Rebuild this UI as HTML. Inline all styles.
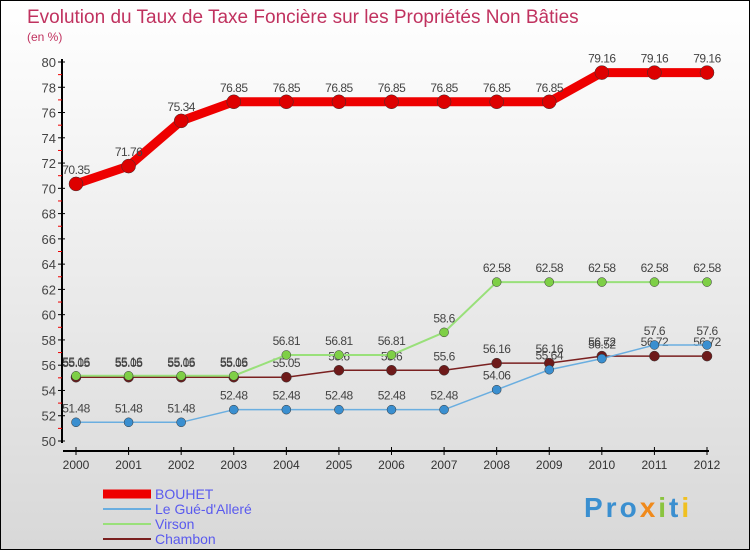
<!DOCTYPE html>
<html><head><meta charset="utf-8"><style>
body{margin:0;}
#wrap{width:748px;height:548px;border:1px solid #000;background:linear-gradient(#fff,#d8d8d8);position:relative;overflow:hidden;font-family:"Liberation Sans",sans-serif;}
</style></head><body>
<div id="wrap">
<svg id="chart" width="748" height="548" xmlns="http://www.w3.org/2000/svg">
<text x="26" y="22" font-size="19" fill="#c0325f">Evolution du Taux de Taxe Foncière sur les Propriétés Non Bâties</text>
<text x="26" y="40" font-size="12" fill="#c0325f">(en %)</text>
<g id="axes"></g><g id="series"></g><g id="legend"></g>
<text x="583" y="516" font-size="28" font-weight="bold" letter-spacing="3" fill="#3a8fd0">Pro<tspan fill="#f08a1c">x</tspan><tspan fill="#8ac43f">i</tspan>t<tspan fill="#f0c020">i</tspan></text>
</svg>
</div>
<script>
const years=[2000,2001,2002,2003,2004,2005,2006,2007,2008,2009,2010,2011,2012];
const bouhet=[70.35,71.76,75.34,76.85,76.85,76.85,76.85,76.85,76.85,76.85,79.16,79.16,79.16];
const gue=[51.48,51.48,51.48,52.48,52.48,52.48,52.48,52.48,54.06,55.64,56.52,57.6,57.6];
const virson=[55.16,55.16,55.16,55.16,56.81,56.81,56.81,58.6,62.58,62.58,62.58,62.58,62.58];
const chambon=[55.05,55.05,55.05,55.05,55.05,55.6,55.6,55.6,56.16,56.16,56.72,56.72,56.72];
const yTicks=[50,52,54,56,58,60,62,64,66,68,70,72,74,76,78,80];
const NS="http://www.w3.org/2000/svg";
function X(i){return 75+i*(706-75)/(years.length-1);}
function Y(v){return 440-(v-50)*(440-61)/30;}
function mk(t,a,p){const e=document.createElementNS(NS,t);for(const k in a)e.setAttribute(k,a[k]);p.appendChild(e);return e;}
const ax=document.getElementById('axes');
const yl=mk('line',{x1:61,y1:58,x2:61,y2:442,stroke:'#000','stroke-width':2},ax);


const xl=mk('line',{x1:62,y1:450,x2:708,y2:450,stroke:'#000','stroke-width':2},ax);


yTicks.forEach(v=>{
  mk('line',{x1:57,y1:Y(v),x2:64,y2:Y(v),stroke:'#000'},ax);
  if(v<80)mk('line',{x1:57,y1:Y(v+1),x2:61,y2:Y(v+1),stroke:'#e00'},ax);
  const t=mk('text',{x:55,y:Y(v)+5,'text-anchor':'end','font-size':13,fill:'#444'},ax);
  t.textContent=v;
  
  
});
years.forEach((yr,i)=>{
  mk('line',{x1:X(i),y1:446,x2:X(i),y2:454,stroke:'#000'},ax);
  const t=mk('text',{x:X(i),y:468,'text-anchor':'middle','font-size':12,fill:'#333'},ax);
  t.textContent=yr;
  
  
});
const sg=document.getElementById('series');
function draw(vals,color,w,r,name,dot){
  const g=mk('g',{},sg);
  
  
  mk('polyline',{points:vals.map((v,i)=>X(i)+','+Y(v)).join(' '),fill:'none',stroke:color,'stroke-width':w,'stroke-linejoin':'round'},g);
  vals.forEach((v,i)=>{
    const c=mk('circle',{cx:X(i),cy:Y(v),r:r,fill:dot,stroke:'#333','stroke-width':0.5},g);
    
    
    const t=mk('text',{x:X(i),y:Y(v)-10,'text-anchor':'middle','font-size':12,fill:'#444','letter-spacing':'-0.5'},g);
    t.textContent=v;
  });
}
draw(chambon,'#7a2020',1.5,5,'chambon','#6e1a1a');
draw(virson,'#99e07a',2,4.5,'virson','#7ecf46');
draw(gue,'#6aaee0',1.5,4.5,'le-gue-dallere','#3a8fd0');
draw(bouhet,'#ee0000',9,7,'bouhet','#dd0000');
const lg=document.getElementById('legend');
const items=[['BOUHET','#ee0000',9],["Le Gué-d'Alleré",'#6aaee0',2],['Virson','#99e07a',2],['Chambon','#7a2020',2]];
items.forEach((it,i)=>{
  const y=493+i*15;
  const g=mk('g',{},lg);
  
  
  mk('line',{x1:102,y1:y,x2:150,y2:y,stroke:it[1],'stroke-width':it[2]},g);
  const t=mk('text',{x:154,y:y+5,'font-size':14,fill:'#5a5aee'},g);
  t.textContent=it[0];
});
</script>
</body></html>
